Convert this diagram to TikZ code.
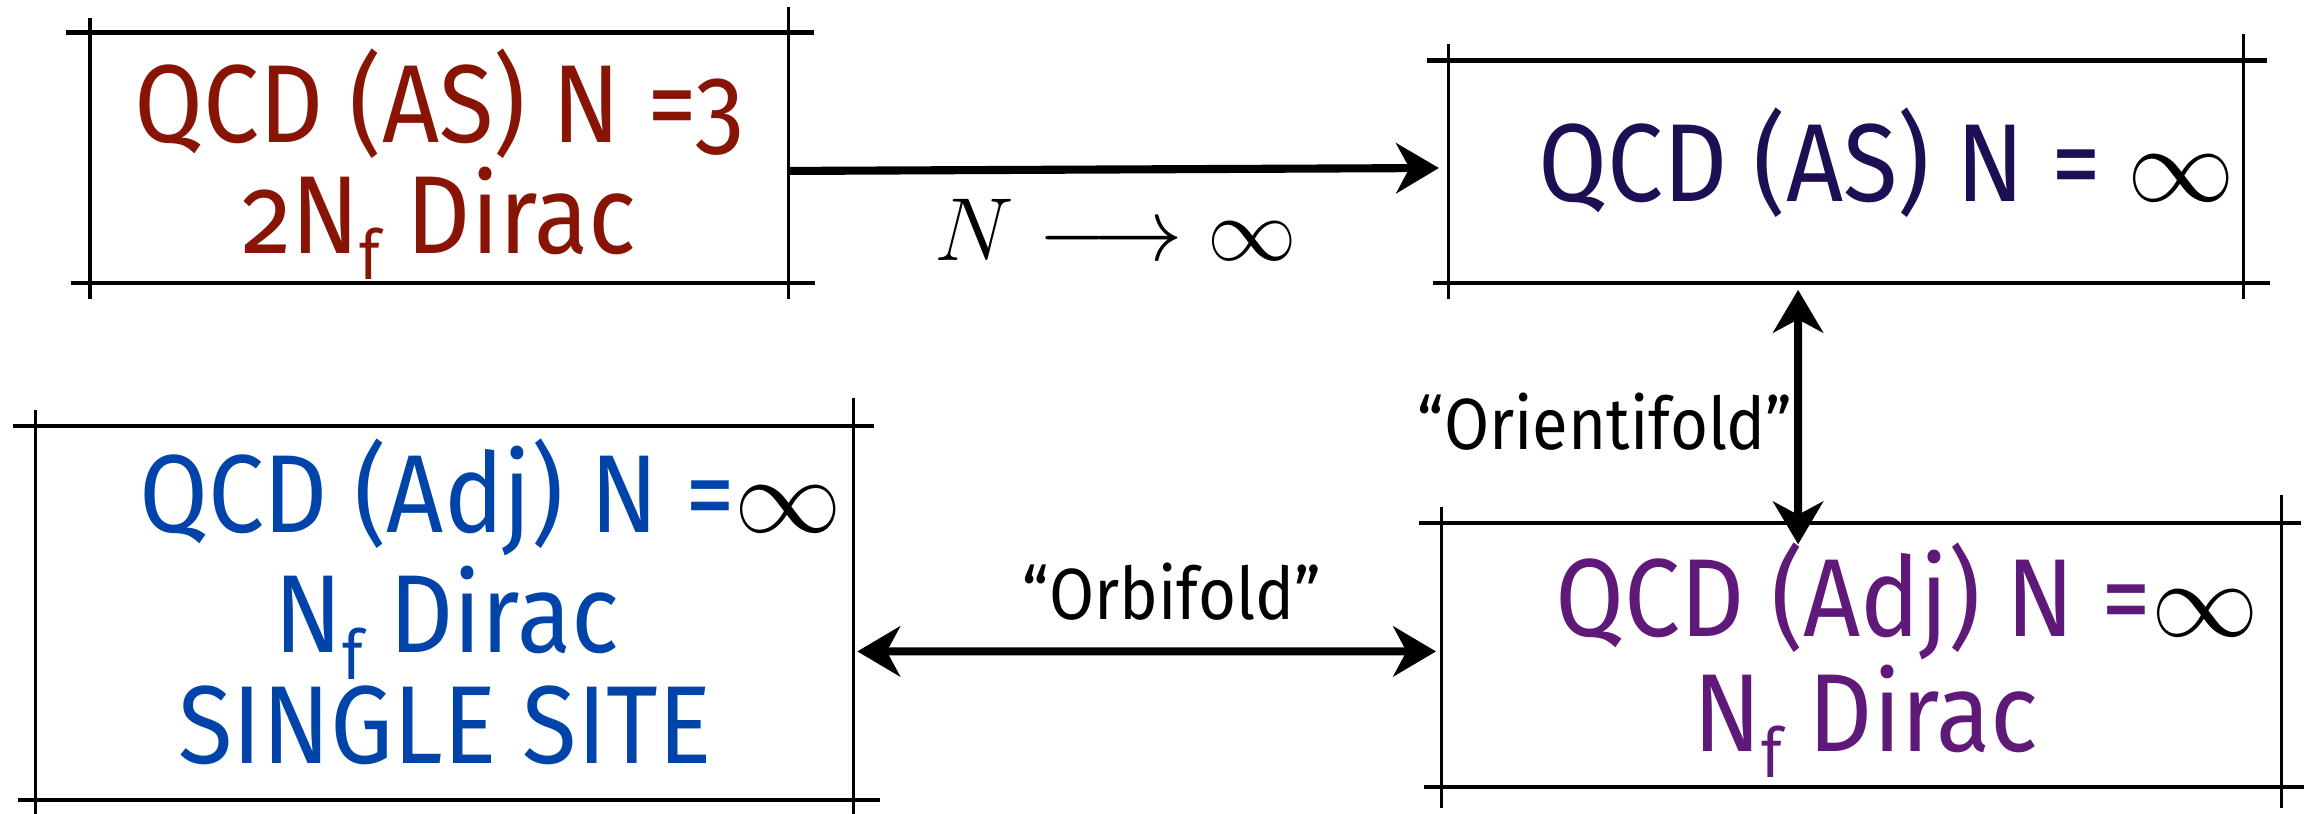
\documentclass[tikz,border=0pt]{standalone}
\usepackage{fontspec}
\setmainfont{Fira Sans}[Numbers=OldStyle, FakeStretch=0.9]
\usetikzlibrary{arrows.meta}
\definecolor{cRed}{RGB}{135,20,5}
\definecolor{cNavy}{RGB}{30,15,85}
\definecolor{cBlue}{RGB}{0,68,170}
\definecolor{cPurple}{RGB}{95,25,120}
\newcommand{\Nsub}{N\raisebox{-0.45ex}{\scalebox{0.62}{f}}}
\tikzset{
  hln/.style={line width=0.3mm},
  vln/.style={line width=0.22mm},
  boxarea/.style={draw=none, rectangle, inner sep=0pt},
  boxtext/.style={anchor=base, inner sep=0pt, font=\fontsize{21.4}{25}\selectfont},
  lbltext/.style={anchor=base, inner sep=0pt, font=\fontsize{14}{17}\selectfont},
  conn/.style={line width=0.55mm, -{Stealth[length=2.9mm, width=3.4mm, inset=0.9mm]}},
  dconn/.style={line width=0.55mm, {Stealth[length=2.9mm, width=3.4mm, inset=0.9mm]}-{Stealth[length=2.9mm, width=3.4mm, inset=0.9mm]}}
}
\begin{document}
\begin{tikzpicture}[x=0.1mm, y=-0.1mm]
\useasboundingbox (0,0) rectangle (1568,552);

% box areas
\node[boxarea, minimum width=47.4mm, minimum height=17mm] (b1) at (298,107) {};
\node[boxarea, minimum width=53.9mm, minimum height=15.1mm] (b2) at (1252.5,116.5) {};
\node[boxarea, minimum width=55.5mm, minimum height=25.4mm] (b3) at (301.5,416) {};
\node[boxarea, minimum width=57mm, minimum height=17.9mm] (b4) at (1263,444.5) {};

% frames box 1
\draw[hln] (45,22) -- (552,22);
\draw[hln] (48,192) -- (553,192);
\draw[vln] (61,12) -- (61,203);
\draw[vln] (535,5) -- (535,203);
% frames box 2
\draw[hln] (968,41) -- (1538,41);
\draw[hln] (972,192) -- (1540,192);
\draw[vln] (983,30) -- (983,203);
\draw[vln] (1522,23) -- (1522,203);
% frames box 3
\draw[hln] (9,289) -- (593,289);
\draw[hln] (12,543) -- (597,543);
\draw[vln] (24,278) -- (24,552);
\draw[vln] (579,270) -- (579,552);
% frames box 4
\draw[hln] (963,355) -- (1561,355);
\draw[hln] (966,534) -- (1563,534);
\draw[vln] (978,344) -- (978,548);
\draw[vln] (1548,336) -- (1548,548);

% texts
\node[boxtext, text=cRed] (t1a) at (298,97) {QCD (AS) N =3};
\node[boxtext, text=cRed] (t1b) at (298,172) {2\Nsub{} Dirac};
\node[boxtext, text=cNavy] (t2a) at (1280,137) {QCD (AS) N = \textcolor{black}{$\infty$}};
\node[boxtext, text=cBlue] (t3a) at (333,361) {QCD (Adj) N =\textcolor{black}{$\infty$}};
\node[boxtext, text=cBlue] (t3b) at (303,443) {\Nsub{} Dirac};
\node[boxtext, text=cBlue] (t3c) at (302,518) {SINGLE SITE};
\node[boxtext, text=cPurple] (t4a) at (1294,432) {QCD (Adj) N =\textcolor{black}{$\infty$}};
\node[boxtext, text=cPurple] (t4b) at (1266,510) {\Nsub{} Dirac};

% connectors
\draw[conn] ([yshift=-0.9mm]b1.east) -- ([yshift=0.25mm,xshift=-0.6mm]b2.west);
\draw[dconn] ([xshift=-3.25mm,yshift=-0.4mm]b2.south) -- ([xshift=-4.3mm,yshift=-1.5mm]b4.north);
\draw[dconn] ([yshift=-2.6mm,xshift=0.2mm]b3.east) -- ([yshift=0.25mm,xshift=-0.3mm]b4.west);

% labels
\node[boxtext, font=\fontsize{16.3}{19}\selectfont] (lN) at (757,177) {$N \longrightarrow \infty$};
\node[lbltext] (lOr) at (1089,305) {“Orientifold”};
\node[lbltext] (lOb) at (795,420) {“Orbifold”};
\end{tikzpicture}
\end{document}
